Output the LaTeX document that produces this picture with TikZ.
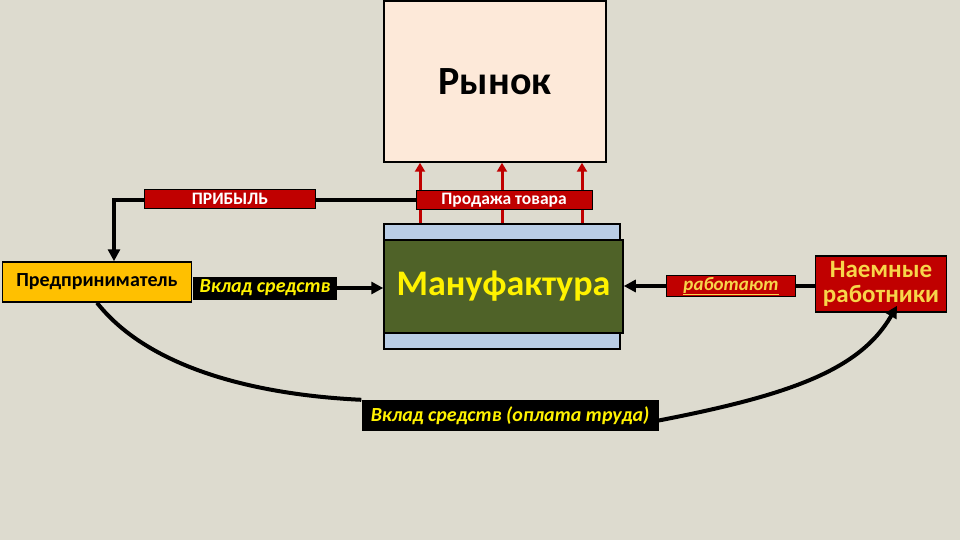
\documentclass[tikz,border=0pt]{standalone}
\usepackage{fontspec}
\setmainfont{Carlito}
\usetikzlibrary{arrows.meta}
\definecolor{bg}{RGB}{221,219,207}
\definecolor{mkt}{RGB}{253,233,217}
\definecolor{dred}{RGB}{192,0,0}
\definecolor{gold}{RGB}{255,192,0}
\definecolor{lblue}{RGB}{185,205,229}
\definecolor{olive}{RGB}{79,98,40}
\definecolor{ltyel}{RGB}{247,213,74}
\tikzset{
  box/.style={draw=black, line width=1.5pt, inner sep=0pt, align=center},
  redlbl/.style={fill=dred, draw=black, line width=1pt, inner sep=0pt, text=white, font=\fontsize{17.5}{19}\selectfont\bfseries},
  blklbl/.style={fill=black, inner sep=0pt, text=yellow, font=\fontsize{20}{22}\selectfont\bfseries\itshape},
  conn/.style={line width=4pt, draw=black},
  arr/.style={conn, -{Triangle[length=12pt,width=12pt]}},
  redarr/.style={line width=3pt, draw=dred, -{Triangle[length=9pt,width=10pt]}}
}
\begin{document}
\begin{tikzpicture}[x=1pt, y=-1pt]
\fill[bg] (0,0) rectangle (960,540);
\useasboundingbox (0,0) rectangle (960,540);

\node[box, fill=mkt, minimum width=222pt, minimum height=161pt, font=\fontsize{40}{44}\selectfont\bfseries] (market) at (495,81.5) {Рынок};

\node[box, fill=lblue, minimum width=236pt, minimum height=125pt] (manufbg) at (502,286.5) {};
\node[box, fill=olive, minimum width=239pt, minimum height=93pt, text=yellow, font=\fontsize{36}{40}\selectfont\bfseries] (manuf) at (503.5,286.5) {Мануфактура};

\node[box, fill=gold, minimum width=189pt, minimum height=40pt, font=\fontsize{20}{22}\selectfont\bfseries] (entre) at (97,282) {Предприниматель};
\node[box, fill=dred, minimum width=131pt, minimum height=56pt, text=ltyel, font=\fontsize{25}{27}\selectfont\bfseries] (workers) at (881,284) {Наемные\\[-2pt]работники};

% red arrows to market
\foreach \dx in {-82,0,80}
  \draw[redarr] ([xshift=\dx pt]manufbg.north) -- ([xshift=\dx pt]manufbg.north |- market.south);

% profit line
\node[redlbl, minimum width=176pt, minimum height=19pt] (sale) at (504,200) {Продажа товара};
\draw[arr] (sale.west) -| ([xshift=17pt]entre.north);
\node[redlbl, minimum width=171pt, minimum height=19pt] (profit) at (230,199) {ПРИБЫЛЬ};

% investment
\node[blklbl, minimum width=144pt, minimum height=23pt] (vklad) at (265,288) {Вклад средств};
\draw[arr] (vklad.east) -- (vklad.east -| manuf.west);

% work
\node[redlbl, minimum width=129pt, minimum height=21pt, text=ltyel, font=\fontsize{19}{21}\selectfont\bfseries\itshape] (rab) at (731,286) {\underline{работают}};
\draw[conn] (workers.west |- rab.east) -- (rab.east);
\draw[arr] (rab.west) -- (rab.west -| manuf.east);

% wages
\node[blklbl, minimum width=297pt, minimum height=31pt] (pay) at (510,415.5) {Вклад средств (оплата труда)};
\draw[conn] (entre.south) .. controls (150,370) and (260,395) .. (pay.north west);
\draw[arr] ([yshift=-5pt]pay.east) .. controls (790,395) and (860,370) .. ([xshift=16pt,yshift=7pt]workers.south);
\end{tikzpicture}
\end{document}
